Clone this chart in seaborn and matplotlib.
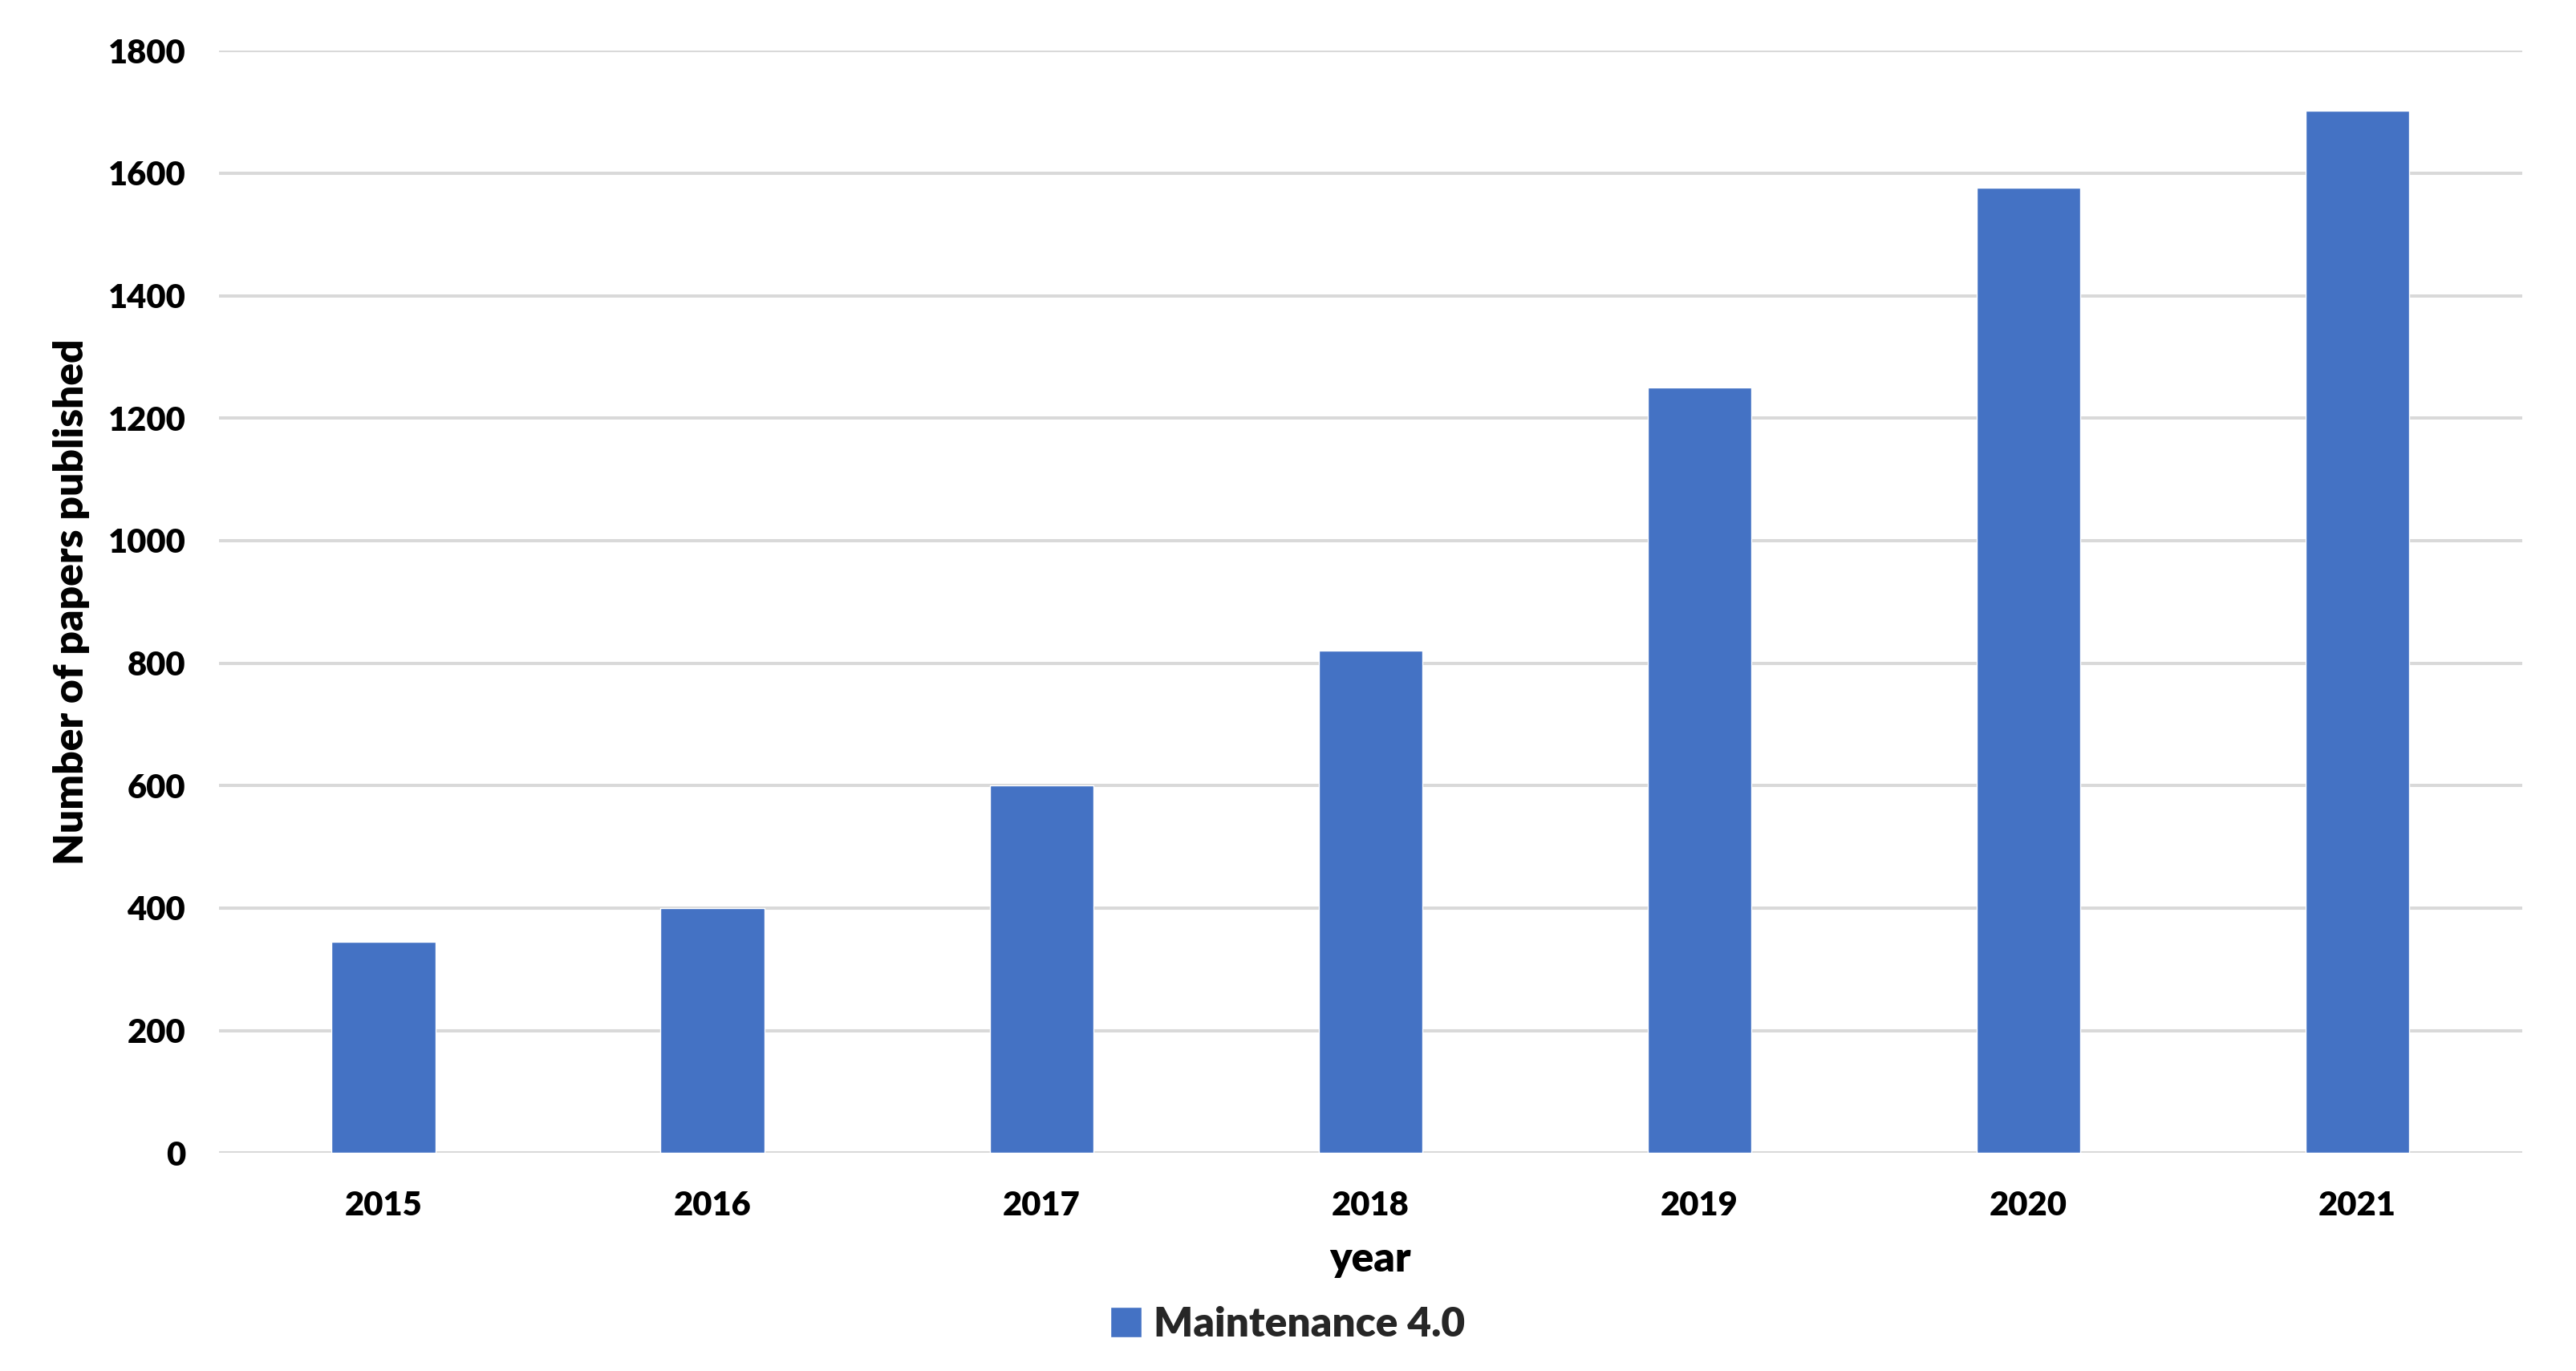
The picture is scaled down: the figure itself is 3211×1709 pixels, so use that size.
import pandas as pd
import matplotlib.pyplot as plt
import seaborn as sns

# Data
years = ['2015', '2016', '2017', '2018', '2019', '2020', '2021']
papers = [345, 400, 600, 820, 1250, 1576, 1702]
series_name = 'Maintenance 4.0'

df = pd.DataFrame({'year': years, 'papers': papers})

sns.set_theme(style='white')
plt.rcParams['font.family'] = ['Lato', 'DejaVu Sans']
plt.rcParams['font.weight'] = 'bold'

bar_color = '#4472C4'
grid_color = '#D9D9D9'

fig, ax = plt.subplots(figsize=(32.11, 17.09), dpi=100)
fig.subplots_adjust(left=0.085, right=0.979, top=0.963, bottom=0.159)

sns.barplot(data=df, x='year', y='papers', color=bar_color, width=0.315,
            saturation=1, label=series_name, ax=ax, zorder=3)

ax.set_ylim(0, 1800)
ax.set_xlim(-0.5, len(years) - 0.5)
ax.set_yticks(range(0, 1801, 200))
ax.yaxis.grid(True, color=grid_color, linewidth=2.9, zorder=0)
ax.set_axisbelow(True)
for s in ax.spines.values():
    s.set_visible(False)
ax.tick_params(axis='both', length=0, labelsize=30, colors='black')
ax.tick_params(axis='y', pad=30)
ax.tick_params(axis='x', pad=34)
for lab in ax.get_xticklabels() + ax.get_yticklabels():
    lab.set_fontweight('heavy')

ax.set_xlabel('year', fontsize=37, fontweight='heavy', color='black', labelpad=18)
ax.set_ylabel('Number of papers published', fontsize=37, fontweight='heavy',
              color='black', labelpad=16)

handles, labels = ax.get_legend_handles_labels()
if ax.get_legend() is not None:
    ax.get_legend().remove()
fig.legend(handles, labels, loc='center', bbox_to_anchor=(0.5, 0.034), frameon=False,
           prop={'size': 37, 'weight': 'heavy'}, handlelength=0.75, handleheight=0.75,
           handletextpad=0.3)

fig.savefig('out.png', dpi=100, facecolor='white')
